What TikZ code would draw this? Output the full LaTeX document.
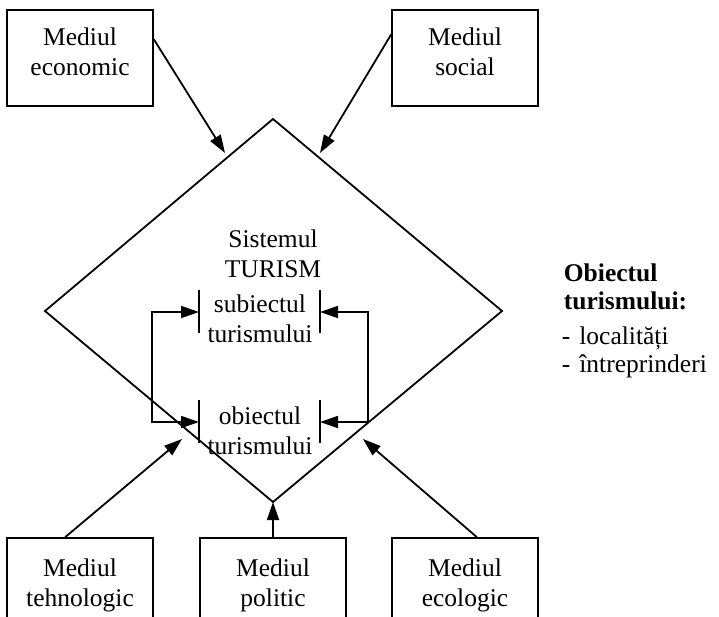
\documentclass[tikz,border=0pt]{standalone}
\usepackage{fontspec}
\setmainfont{Liberation Serif}
\usetikzlibrary{arrows.meta,calc}
\begin{document}
\begin{tikzpicture}[x=1pt,y=-1pt,
  line width=1.8pt,
  envbox/.style={draw,line width=1.8pt,minimum width=146pt,minimum height=96pt,inner sep=0pt},
  txt/.style={align=center,font=\fontsize{25.5}{30}\selectfont,inner sep=0pt},
  side/.style={anchor=base west,inner sep=0pt,font=\fontsize{25.5}{28}\selectfont},
  sidehead/.style={side,font=\bfseries\fontsize{25.5}{28}\selectfont},
  arr/.style={-{Triangle[length=18pt,width=12pt]}},
  darr/.style={{Triangle[length=18pt,width=12pt]}-{Triangle[length=18pt,width=12pt]}}]

% page frame
\clip (0,0) rectangle (719,616);

% environment boxes
\node[envbox] (eco) at (80,58) {};
\node[envbox] (soc) at (465,58) {};
\node[envbox] (teh) at (80,586) {};
\node[envbox] (pol) at (273,586) {};
\node[envbox] (ecl) at (465,586) {};
\node[txt] (ecoT) at (80,54) {\strut Mediul\\economic\strut};
\node[txt] (socT) at (465,54) {\strut Mediul\\social\strut};
\node[txt] (tehT) at (80,585) {\strut Mediul\\tehnologic\strut};
\node[txt] (polT) at (273,585) {\strut Mediul\\politic\strut};
\node[txt] (eclT) at (465,585) {\strut Mediul\\ecologic\strut};

% the tourism system diamond
\coordinate (dT) at (273,119);
\coordinate (dR) at (502,311);
\coordinate (dB) at (273,502);
\coordinate (dL) at (45,311);
\draw (dT) -- (dR) -- (dB) -- (dL) -- cycle;
\node[txt] (sys) at (273,256) {\strut Sistemul\\TURISM\strut};

% subject / object of tourism
\node[txt] (subj) at (260,321) {\strut subiectul\\turismului\strut};
\node[txt] (obj) at (260,433) {\strut obiectul\\turismului\strut};
\draw (199,290) -- (199,333);
\draw (320,290) -- (320,333);
\draw (199,400) -- (199,443);
\draw (320,400) -- (320,443);
\coordinate (sL) at (199,312);
\coordinate (sR) at (320,312);
\coordinate (oL) at (199,422);
\coordinate (oR) at (320,422);
\coordinate (lA) at (152,312);
\coordinate (lB) at (152,422);
\coordinate (rA) at (368,312);
\coordinate (rB) at (368,422);
\draw[darr] (sL) -- (lA) -- (lB) -- (oL);
\draw[darr] (sR) -- (rA) -- (rB) -- (oR);

% influences of the environment
\coordinate (tEco) at (225,153);
\coordinate (tSoc) at (320,153);
\coordinate (tTeh) at (182,439);
\coordinate (tEcl) at (363,439);
\draw[arr] ($(eco.north east)!0.31!(eco.south east)$) -- (tEco);
\draw[arr] ($(soc.north west)!0.26!(soc.south west)$) -- (tSoc);
\draw[arr] ($(teh.north west)!0.4!(teh.north east)$) -- (tTeh);
\draw[arr] ($(ecl.north west)!0.58!(ecl.north east)$) -- (tEcl);
\draw[arr] (pol.north) -- (dB);

% object of tourism
\node[sidehead] (objA) at (563,281) {Obiectul};
\node[sidehead] (objB) at (563,309) {turismului:};
\node[side] (li1) at (561,344) {-\hspace{9pt}localități};
\node[side] (li2) at (561,372) {-\hspace{9pt}întreprinderi};
\end{tikzpicture}
\end{document}
